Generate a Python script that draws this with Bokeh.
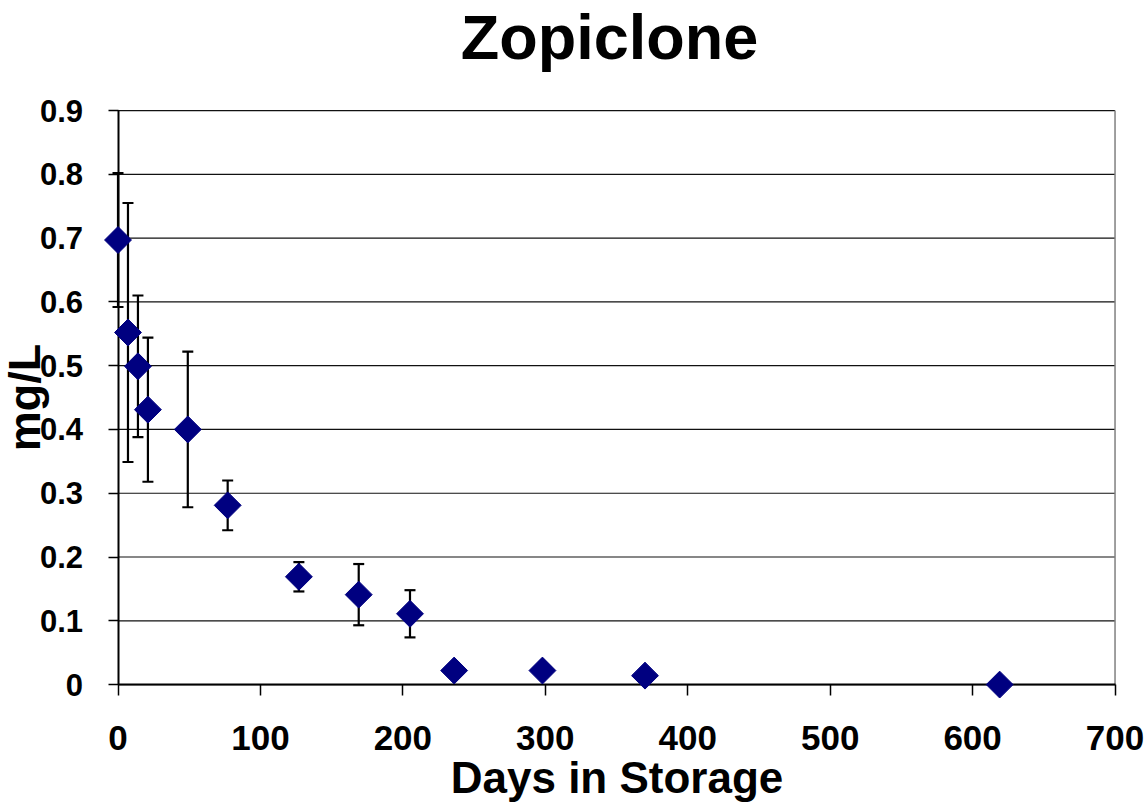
import math
from bokeh.plotting import figure
from bokeh.models import ColumnDataSource, Whisker, TeeHead, Range1d, FixedTicker, Label
from bokeh.embed import file_html
from bokeh.resources import INLINE

# Zopiclone concentration versus storage time (mean +/- error)
days = [0, 7, 14, 21, 49, 77, 127, 169, 205, 236, 298, 370, 619]
conc = [0.697, 0.552, 0.499, 0.431, 0.400, 0.281, 0.169, 0.141, 0.111, 0.022, 0.022, 0.014, 0.0]
err = [0.105, 0.203, 0.111, 0.113, 0.122, 0.039, 0.023, 0.048, 0.037, 0.0, 0.0, 0.0, 0.0]

x_ticks = [0, 100, 200, 300, 400, 500, 600, 700]
y_ticks = [0, 0.1, 0.2, 0.3, 0.4, 0.5, 0.6, 0.7, 0.8, 0.9]

FONT = "Liberation Sans"
X0, X1 = x_ticks[0], x_ticks[-1]
Y0, Y1 = y_ticks[0], y_ticks[-1]
XMID = (X0 + X1) / 2

# the plotting frame fills the canvas; axes are pinned to the zero lines and the
# surrounding white space is just range beyond the data
p = figure(width=1148, height=804, output_backend="svg", toolbar_location=None,
           x_range=Range1d(X0 - 82.5, X1 + 23.5), y_range=Range1d(Y0 - 0.188, Y1 + 0.1725),
           min_border=0, min_border_left=0, min_border_right=0,
           min_border_top=0, min_border_bottom=0)

p.background_fill_color = "white"
p.border_fill_color = "white"
p.outline_line_color = None
p.xgrid.grid_line_color = None
p.ygrid.grid_line_color = None

p.xaxis.fixed_location = Y0
p.yaxis.fixed_location = X0
p.xaxis.bounds = (X0, X1)
p.yaxis.bounds = (Y0, Y1)
p.xaxis.ticker = FixedTicker(ticks=x_ticks)
p.yaxis.ticker = FixedTicker(ticks=y_ticks)
p.xaxis.major_label_overrides = {t: str(t) for t in x_ticks}
p.yaxis.major_label_overrides = {t: ("0" if t == 0 else f"{t:.1f}") for t in y_ticks}
for ax in (p.xaxis[0], p.yaxis[0]):
    ax.axis_line_color = "black"
    ax.axis_line_width = 2
    ax.major_tick_line_color = "black"
    ax.major_tick_line_width = 1.5
    ax.minor_tick_line_color = None
    ax.major_tick_in = 0
    ax.major_label_text_font = FONT
    ax.major_label_text_font_style = "bold"
    ax.major_label_text_color = "black"
    ax.axis_label_text_font = FONT
    ax.axis_label_text_font_style = "bold"
    ax.axis_label_text_color = "black"
p.xaxis.major_tick_out = 11
p.yaxis.major_tick_out = 10
p.xaxis.major_label_text_font_size = "35px"
p.yaxis.major_label_text_font_size = "31px"
p.xaxis.major_label_standoff = 30
p.yaxis.major_label_standoff = 25

p.xaxis.axis_label = "Days in Storage"
p.xaxis.axis_label_text_font_size = "44px"
p.xaxis.axis_label_standoff = 0

p.yaxis.axis_label = "mg/L"
p.yaxis.axis_label_text_font_size = "45px"
p.yaxis.axis_label_standoff = -13

# horizontal gridlines across the plotting area and its grey right edge
n = len(y_ticks)
p.segment(x0=[X0] * n, x1=[X1] * n, y0=y_ticks, y1=y_ticks,
          line_color="#111111", line_width=1.2)
p.segment(x0=[X1], x1=[X1], y0=[Y0], y1=[Y1], line_color="#808080", line_width=1.5)

# error bars (only where an error was measured)
eb = [(d, c, e) for d, c, e in zip(days, conc, err) if e > 0]
err_src = ColumnDataSource(data=dict(
    x=[d for d, _, _ in eb],
    lower=[c - e for _, c, e in eb],
    upper=[c + e for _, c, e in eb],
))
whisk = Whisker(base="x", lower="lower", upper="upper", dimension="height", source=err_src,
                line_color="black", line_width=2.2, level="glyph",
                upper_head=TeeHead(size=11, line_color="black", line_width=2.2),
                lower_head=TeeHead(size=11, line_color="black", line_width=2.2))
p.add_layout(whisk)

src = ColumnDataSource(data=dict(days=days, conc=conc))
p.scatter("days", "conc", source=src, marker="square", size=19, angle=math.pi / 4,
          fill_color="#000080", line_color="#000080", level="overlay")

# chart title above the plotting area
p.add_layout(Label(x=XMID, y=Y1, x_offset=-7, y_offset=74, text="Zopiclone",
                   text_font=FONT, text_font_size="63px", text_font_style="bold",
                   text_color="black", text_align="center", text_baseline="alphabetic"))

open("out.html", "w").write(file_html(p, INLINE))
